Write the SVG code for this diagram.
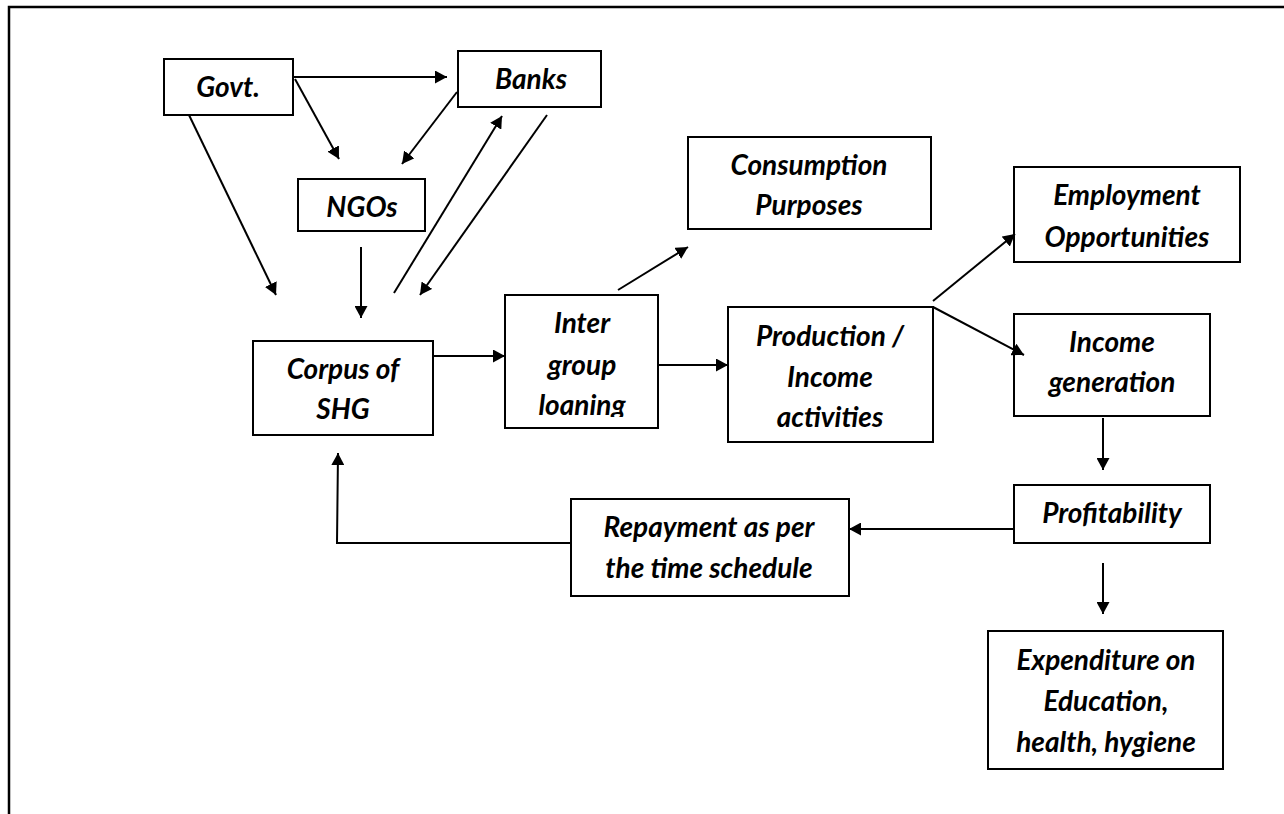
<svg xmlns="http://www.w3.org/2000/svg" width="1284" height="814" viewBox="0 0 1284 814">
<style>
.box{fill:#fff;stroke:#000;stroke-width:2}
.t{font-family:Lato,"Liberation Sans",sans-serif;font-weight:bold;font-style:italic;font-size:28px;text-anchor:middle;fill:#000}
.c{stroke:#000;stroke-width:2;fill:none;marker-end:url(#ah)}
</style>
<defs>
<marker id="ah" markerUnits="userSpaceOnUse" markerWidth="13" markerHeight="13" refX="12" refY="6.5" orient="auto">
<path d="M0,0 L12,6.5 L0,13 z" fill="#000"/>
</marker>
<clipPath id="clipPurp"><rect x="688" y="137" width="243" height="81"/></clipPath>
<clipPath id="clipLoan"><rect x="505" y="295" width="154" height="122"/></clipPath>
</defs>
<rect width="1284" height="814" fill="#fff"/>
<path d="M9,814 V7 H1284" stroke="#000" stroke-width="2.5" fill="none"/>
<g id="govt"><rect class="box" x="164" y="59" width="129" height="56"/><text class="t" x="228" y="97">Govt.</text></g>
<g id="banks"><rect class="box" x="458" y="51" width="143" height="56"/><text class="t" x="531" y="89">Banks</text></g>
<g id="ngos"><rect class="box" x="298" y="179" width="127" height="52"/><text class="t" x="362" y="217">NGOs</text></g>
<g id="consumption"><rect class="box" x="688" y="137" width="243" height="92"/><text class="t" x="809" y="175">Consumption</text><text class="t" x="809" y="215" clip-path="url(#clipPurp)">Purposes</text></g>
<g id="employment"><rect class="box" x="1014" y="167" width="226" height="95"/><text class="t" x="1127" y="205">Employment</text><text class="t" x="1127" y="247">Opportunities</text></g>
<g id="corpus"><rect class="box" x="253" y="341" width="180" height="94"/><text class="t" x="343" y="379">Corpus of</text><text class="t" x="343" y="419">SHG</text></g>
<g id="intergroup"><rect class="box" x="505" y="295" width="153" height="133"/><text class="t" x="582" y="333">Inter</text><text class="t" x="582" y="375">group</text><text class="t" x="582" y="415" clip-path="url(#clipLoan)">loaning</text></g>
<g id="production"><rect class="box" x="728" y="307" width="205" height="135"/><text class="t" x="830" y="346">Production /</text><text class="t" x="830" y="387">Income</text><text class="t" x="830" y="427">activities</text></g>
<g id="income"><rect class="box" x="1014" y="314" width="196" height="102"/><text class="t" x="1112" y="352">Income</text><text class="t" x="1112" y="392">generation</text></g>
<g id="profitability"><rect class="box" x="1014" y="485" width="196" height="58"/><text class="t" x="1112" y="523">Profitability</text></g>
<g id="repayment"><rect class="box" x="571" y="499" width="278" height="97"/><text class="t" x="709" y="537">Repayment as per</text><text class="t" x="709" y="578">the time schedule</text></g>
<g id="expenditure"><rect class="box" x="988" y="631" width="235" height="138"/><text class="t" x="1106" y="670">Expenditure on</text><text class="t" x="1106" y="711">Education,</text><text class="t" x="1106" y="752">health, hygiene</text></g>
<g id="connectors">
<line class="c" x1="293" y1="77" x2="447" y2="77"/>
<line class="c" x1="295" y1="79" x2="339" y2="159"/>
<line class="c" x1="457" y1="92" x2="402" y2="164"/>
<line class="c" x1="189" y1="115" x2="276" y2="295"/>
<line class="c" x1="361" y1="247" x2="361" y2="318"/>
<line class="c" x1="394" y1="293" x2="502" y2="116"/>
<line class="c" x1="547" y1="115" x2="420" y2="295"/>
<line class="c" x1="433" y1="356" x2="505" y2="356"/>
<line class="c" x1="618" y1="290" x2="688" y2="247"/>
<line class="c" x1="658" y1="365" x2="728" y2="365"/>
<line class="c" x1="933" y1="301" x2="1015" y2="234"/>
<line class="c" x1="933" y1="307" x2="1024" y2="355"/>
<line class="c" x1="1103" y1="418" x2="1103" y2="470"/>
<line class="c" x1="1014" y1="529" x2="849" y2="529"/>
<polyline class="c" points="571,543 337,543 338,453"/>
<line class="c" x1="1103" y1="563" x2="1103" y2="614"/>
</g>
</svg>
